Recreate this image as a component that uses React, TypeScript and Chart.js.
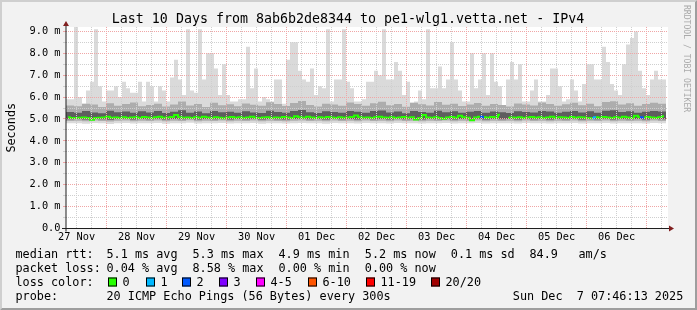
import React, { useEffect, useRef } from 'react';
import { Chart, registerables } from 'chart.js';

Chart.register(...registerables);

// ---------- text ----------
const TITLE = 'Last 10 Days from 8ab6b2de8344 to pe1-wlg1.vetta.net - IPv4';
const Y_TITLE = 'Seconds';
const WATERMARK = 'RRDTOOL / TOBI OETIKER';
const dayLabels = ['27 Nov', '28 Nov', '29 Nov', '30 Nov', '01 Dec', '02 Dec', '03 Dec', '04 Dec', '05 Dec', '06 Dec'];
const yMajorLabels = ['0.0', '1.0 m', '2.0 m', '3.0 m', '4.0 m', '5.0 m', '6.0 m', '7.0 m', '8.0 m', '9.0 m'];
const medianStats = ['5.1 ms avg', '5.3 ms max', '4.9 ms min', '5.2 ms now', '0.1 ms sd', '84.9', 'am/s'];
const lossStats = ['0.04 % avg', '8.58 % max', '0.00 % min', '0.00 % now'];
const lossLabels = ['0', '1', '2', '3', '4-5', '6-10', '11-19', '20/20'];
const lossColors = ['#26ff00', '#00b8ff', '#0059ff', '#7e00ff', '#ff00ff', '#ff5500', '#ff0000', '#a10000'];
const probeText = '20 ICMP Echo Pings (56 Bytes) every 300s';
const dateText = 'Sun Dec  7 07:46:13 2025';

// ---------- time axis (hours since 27 Nov 00:00) ----------
const START_HOUR = 7.77; // 27 Nov 07:46:13
const END_HOUR = 248.57;
const FINE_BIN = 1.6; // hours per fine bin (150 bins)
const CORE_BIN = 3.2; // hours per core bin (75 bins)

// ---------- data (ms) ----------
const maxRtt = [
  5.9, 5.9, 9.2, 6.0, 5.6, 6.3, 6.7, 9.1, 6.5, 5.8,
  6.3, 6.3, 6.5, 6.0, 6.7, 6.4, 6.2, 6.2, 6.7, 5.8,
  6.7, 6.5, 5.8, 6.5, 6.3, 5.8, 6.9, 7.7, 6.8, 6.1,
  9.1, 6.3, 6.2, 9.1, 6.8, 8.0, 8.0, 7.3, 6.1, 7.5,
  6.1, 5.8, 5.8, 5.9, 5.9, 8.3, 6.4, 7.3, 5.8, 6.0,
  5.9, 5.8, 6.8, 6.8, 5.7, 7.7, 8.5, 8.5, 7.2, 6.8,
  6.7, 7.3, 6.1, 6.5, 6.4, 9.1, 5.8, 6.8, 6.8, 9.1,
  6.7, 6.4, 5.8, 5.8, 5.9, 6.7, 6.7, 7.2, 7.0, 9.1,
  6.8, 6.8, 7.6, 7.2, 6.1, 6.7, 5.7, 5.8, 6.3, 5.9,
  9.1, 6.4, 6.4, 7.4, 6.4, 6.8, 8.5, 6.8, 6.3, 5.8,
  5.8, 8.0, 6.4, 6.8, 8.0, 6.1, 8.0, 6.7, 6.5, null,
  6.8, 7.6, 6.8, 7.5, 5.8, 5.8, 6.3, 6.8, 5.8, 5.8,
  6.1, 7.3, 7.3, 6.5, 5.8, 5.9, 6.8, 6.3, 5.8, 6.6,
  7.5, 7.5, 6.8, 6.8, 8.3, 7.6, 6.6, 6.3, 6.1, 7.5,
  8.4, 8.7, 9.0, 7.2, 6.4, 6.1, 6.8, 7.2, 6.8, 6.8,
];

const medianRtt = [
  5.08, 5.05, 5.04, 5.06, 5.07, 5.05, 4.97, 5.04, 5.06, 5.07,
  5.10, 5.06, 5.07, 5.05, 5.08, 5.04, 5.07, 5.08, 5.05, 5.09,
  5.07, 5.05, 5.08, 5.10, 5.06, 5.07, 5.09, 5.18, 5.08, 5.06,
  5.07, 5.05, 5.08, 5.06, 5.10, 5.07, 5.05, 5.08, 5.06, 5.03,
  5.07, 5.09, 5.06, 5.08, 5.05, 5.07, 5.10, 5.06, 5.04, 5.07,
  5.08, 5.05, 5.07, 5.06, 5.09, 5.07, 5.05, 5.12, 5.08, 5.06,
  5.10, 5.07, 5.05, 5.08, 5.06, 5.09, 5.07, 5.05, 5.08, 5.06,
  5.07, 5.09, 5.16, 5.08, 5.06, 5.07, 5.05, 5.08, 5.10, 5.07,
  5.06, 5.08, 5.05, 5.07, 5.09, 5.06, 5.08, 4.98, 5.05, 5.18,
  5.07, 5.06, 5.08, 5.05, 5.01, 5.07, 5.09, 5.06, 5.15, 5.08,
  5.06, 4.94, 5.07, 5.10, 5.08, 5.06, 5.09, 5.07, 5.19, null,
  5.05, 5.07, 5.06, 5.08, 5.05, 5.07, 5.09, 5.06, 5.08, 5.05,
  5.07, 5.10, 5.06, 5.08, 5.07, 5.05, 5.09, 5.06, 5.08, 5.07,
  5.05, 5.03, 5.08, 5.06, 5.09, 5.07, 5.05, 5.08, 5.06, 5.10,
  5.07, 5.05, 5.15, 5.08, 5.06, 5.09, 5.07, 5.05, 5.08, 5.12,
];

// packet-loss events on the median line (fine-bin index, pings lost)
const lossBins = [103, 131, 143];
const lossCounts = [2, 1, 2];

const p90Rtt = [
  5.62, 5.58, 5.70, 5.66, 5.55, 5.72, 5.60, 5.68, 5.75, 5.58,
  5.64, 5.70, 5.57, 5.66, 5.80, 5.62, 5.69, 5.55, 5.74, 5.63,
  5.67, 5.58, 5.71, 5.65, 5.60, 5.76, 5.68, 5.59, 5.73, 5.82,
  5.64, 5.57, 5.70, 5.66, 5.61, 5.75, 5.68, 5.60, 5.72, 5.79,
  5.63, 5.69, 5.56, 5.74, 5.67, 5.62, 5.78, 5.65, 5.70, 5.59,
  5.66, 5.73, 5.60, 5.68, 5.64, 5.57, 5.71, 5.66, 5.62, 5.75,
  5.69, 5.60, 5.67, 5.74, 5.63, 5.70, 5.58, 5.77, 5.81, 5.66,
  5.72, 5.60, 5.68, 5.74, 5.70,
];
const p75Rtt = [
  5.32, 5.28, 5.36, 5.30, 5.26, 5.38, 5.31, 5.34, 5.29, 5.35,
  5.30, 5.37, 5.27, 5.33, 5.40, 5.29, 5.34, 5.26, 5.36, 5.31,
  5.33, 5.28, 5.35, 5.30, 5.27, 5.38, 5.32, 5.29, 5.36, 5.41,
  5.31, 5.27, 5.35, 5.32, 5.28, 5.37, 5.33, 5.29, 5.36, 5.39,
  5.30, 5.34, 5.26, 5.37, 5.32, 5.29, 5.38, 5.31, 5.35, 5.28,
  5.33, 5.36, 5.29, 5.34, 5.31, 5.27, 5.35, 5.32, 5.30, 5.37,
  5.34, 5.29, 5.33, 5.36, 5.30, 5.35, 5.28, 5.38, 5.40, 5.32,
  5.35, 5.29, 5.33, 5.36, 5.34,
];
const p25Rtt = [
  4.99, 5.00, 4.98, 5.01, 4.99, 4.97, 5.00, 5.01, 4.98, 5.00,
  4.99, 5.01, 4.98, 5.00, 4.99, 5.02, 4.98, 5.00, 4.99, 5.01,
  4.98, 5.00, 4.99, 5.01, 4.98, 5.00, 4.99, 4.98, 5.00, 5.01,
  4.99, 5.00, 4.98, 5.01, 4.99, 5.00, 4.98, 5.01, 4.99, 5.00,
  4.98, 5.01, 4.99, 5.00, 4.98, 5.00, 4.99, 5.01, 4.98, 5.00,
  4.99, 5.01, 4.98, 5.00, 4.99, 5.00, 4.98, 5.01, 4.99, 5.00,
  4.98, 5.00, 4.99, 5.01, 4.98, 5.00, 4.99, 5.01, 4.98, 5.00,
  4.99, 5.00, 4.98, 5.01, 4.99,
];
const p10Rtt = [
  4.91, 4.92, 4.90, 4.93, 4.91, 4.89, 4.92, 4.93, 4.90, 4.92,
  4.91, 4.93, 4.90, 4.92, 4.91, 4.94, 4.90, 4.92, 4.91, 4.93,
  4.90, 4.92, 4.91, 4.93, 4.90, 4.92, 4.91, 4.90, 4.92, 4.93,
  4.91, 4.92, 4.90, 4.93, 4.91, 4.92, 4.90, 4.93, 4.91, 4.92,
  4.90, 4.93, 4.91, 4.92, 4.90, 4.92, 4.91, 4.93, 4.90, 4.92,
  4.91, 4.93, 4.90, 4.92, 4.91, 4.92, 4.90, 4.93, 4.91, 4.92,
  4.90, 4.92, 4.91, 4.93, 4.90, 4.92, 4.91, 4.93, 4.90, 4.92,
  4.91, 4.92, 4.90, 4.93, 4.91,
];
const minRtt = [
  4.80, 4.81, 4.78, 4.82, 4.80, 4.77, 4.81, 4.82, 4.79, 4.81,
  4.80, 4.82, 4.78, 4.81, 4.80, 4.83, 4.79, 4.81, 4.80, 4.82,
  4.79, 4.81, 4.80, 4.82, 4.78, 4.81, 4.80, 4.79, 4.81, 4.82,
  4.80, 4.81, 4.78, 4.82, 4.80, 4.81, 4.79, 4.82, 4.80, 4.81,
  4.79, 4.82, 4.80, 4.81, 4.79, 4.81, 4.80, 4.82, 4.79, 4.81,
  4.80, 4.82, 4.79, 4.81, 4.80, 4.81, 4.79, 4.82, 4.80, 4.81,
  4.79, 4.81, 4.80, 4.82, 4.79, 4.81, 4.80, 4.82, 4.79, 4.81,
  4.80, 4.81, 4.79, 4.82, 4.80,
];

// ---------- styling ----------
const MONO = "'DejaVu Sans Mono', monospace";
const MAJOR_GRID = '#f0a6a6';
const MINOR_GRID = '#cfcfcf';
const SMOKE_LIGHT = '#dadada';
const SMOKE_MID = '#adadad';
const SMOKE_DARK = '#5e5e5e';
const ARROW = '#801f1f';
const AXIS = '#1f1f1f';

const fineX = maxRtt.map((_, i) => START_HOUR + FINE_BIN * (i + 0.5));
const coreX = p25Rtt.map((_, j) => START_HOUR + CORE_BIN * (j + 0.5));

function lossColorIndex(count: number) {
  if (count <= 3) return count;
  if (count <= 5) return 4;
  if (count <= 10) return 5;
  if (count <= 19) return 6;
  return 7;
}
function lossColorAt(i: number) {
  const k = lossBins.indexOf(i);
  return k < 0 ? lossColors[0] : lossColors[lossColorIndex(lossCounts[k])];
}

const rrdPlugin = {
  id: 'rrdFrame',
  beforeDraw(chart: any) {
    const { ctx, width: W, height: H, chartArea: a } = chart;
    ctx.save();
    ctx.fillStyle = '#f2f2f2';
    ctx.fillRect(0, 0, W, H);
    ctx.fillStyle = '#cfcfcf';
    ctx.beginPath();
    ctx.moveTo(0, H); ctx.lineTo(2, H - 2); ctx.lineTo(2, 2); ctx.lineTo(W - 2, 2); ctx.lineTo(W, 0); ctx.lineTo(0, 0);
    ctx.closePath(); ctx.fill();
    ctx.fillStyle = '#9e9e9e';
    ctx.beginPath();
    ctx.moveTo(2, H - 2); ctx.lineTo(W - 2, H - 2); ctx.lineTo(W - 2, 2); ctx.lineTo(W, 0); ctx.lineTo(W, H); ctx.lineTo(0, H);
    ctx.closePath(); ctx.fill();
    ctx.fillStyle = '#ffffff';
    ctx.fillRect(a.left, a.top, a.right - a.left, a.bottom - a.top);
    ctx.restore();
  },
  afterDraw(chart: any) {
    const { ctx, chartArea: a } = chart;
    ctx.save();
    // axes
    ctx.strokeStyle = AXIS;
    ctx.lineWidth = 1;
    ctx.beginPath();
    ctx.moveTo(a.left - 4, a.bottom); ctx.lineTo(a.right + 1, a.bottom);
    ctx.stroke();
    ctx.beginPath();
    ctx.moveTo(a.left, a.bottom + 3); ctx.lineTo(a.left, a.top - 1);
    ctx.stroke();
    // arrows
    ctx.fillStyle = ARROW;
    ctx.beginPath();
    ctx.moveTo(a.right + 1, a.bottom - 3); ctx.lineTo(a.right + 6, a.bottom); ctx.lineTo(a.right + 1, a.bottom + 3);
    ctx.closePath(); ctx.fill();
    ctx.beginPath();
    ctx.moveTo(a.left - 3, a.top - 1); ctx.lineTo(a.left, a.top - 6); ctx.lineTo(a.left + 3, a.top - 1);
    ctx.closePath(); ctx.fill();

    ctx.fillStyle = '#000';
    ctx.textBaseline = 'alphabetic';
    // title
    ctx.font = `13.3px ${MONO}`;
    ctx.textAlign = 'center';
    ctx.fillText(TITLE, 348, 23);
    // y title
    ctx.font = `11.8px ${MONO}`;
    ctx.save();
    ctx.translate(14.5, (a.top + a.bottom) / 2);
    ctx.rotate(-Math.PI / 2);
    ctx.fillText(Y_TITLE, 0, 0);
    ctx.restore();
    // watermark
    ctx.save();
    ctx.fillStyle = '#aaaaaa';
    ctx.font = `8.1px ${MONO}`;
    ctx.textAlign = 'left';
    ctx.translate(683.5, 5);
    ctx.rotate(Math.PI / 2);
    ctx.fillText(WATERMARK, 0, 0);
    ctx.restore();

    // legend
    ctx.font = `11.8px ${MONO}`;
    ctx.textAlign = 'left';
    const rows = [258.3, 272.1, 286.2, 300.2];
    ctx.fillText('median rtt:', 15.5, rows[0]);
    const medX = [106.5, 192.5, 278.5, 364.8, 450.8, 529.5, 578.5];
    medianStats.forEach((s, i) => ctx.fillText(s, medX[i], rows[0]));
    ctx.fillText('packet loss:', 15.5, rows[1]);
    lossStats.forEach((s, i) => ctx.fillText(s, medX[i], rows[1]));
    ctx.fillText('loss color:', 15.5, rows[2]);
    const boxX = [108, 146, 182, 219, 256, 308, 366, 431];
    lossLabels.forEach((s, i) => {
      ctx.fillStyle = lossColors[i];
      ctx.fillRect(boxX[i], 277.5, 9, 9);
      ctx.strokeStyle = '#000';
      ctx.strokeRect(boxX[i] + 0.5, 278, 8, 8);
      ctx.fillStyle = '#000';
      ctx.fillText(s, boxX[i] + 14.5, rows[2]);
    });
    ctx.fillText('probe:', 15.5, rows[3]);
    ctx.fillText(probeText, 106.5, rows[3]);
    ctx.fillText(dateText, 512.8, rows[3]);
    ctx.restore();
  },
};

export default function App() {
  const ref = useRef<HTMLCanvasElement>(null);
  useEffect(() => {
    const canvas = ref.current;
    if (!canvas) return;
    Chart.defaults.font.family = MONO;
    const barCommon = { grouped: false, borderWidth: 0, inflateAmount: 0, borderSkipped: false };
    const chart = new Chart(canvas, {
      type: 'bar',
      data: {
        datasets: [
          {
            type: 'line',
            label: 'median rtt',
            data: medianRtt.map((v, i) => ({ x: fineX[i], y: v })),
            borderColor: lossColors[0],
            borderWidth: 2,
            pointRadius: 0,
            stepped: 'middle',
            spanGaps: false,
            order: 0,
            segment: { borderColor: (c: any) => lossColorAt(c.p0DataIndex) },
          } as any,
          {
            label: 'p25-p75',
            data: p25Rtt.map((v, j) => ({ x: coreX[j], y: [v, p75Rtt[j]] })),
            backgroundColor: SMOKE_DARK,
            barThickness: 8,
            order: 1,
            ...barCommon,
          },
          {
            label: 'p10-p90',
            data: p10Rtt.map((v, j) => ({ x: coreX[j], y: [v, p90Rtt[j]] })),
            backgroundColor: SMOKE_MID,
            barThickness: 8,
            order: 2,
            ...barCommon,
          },
          {
            label: 'min-p90',
            data: minRtt.map((v, j) => ({ x: coreX[j], y: [v, p90Rtt[j]] })),
            backgroundColor: SMOKE_LIGHT,
            barThickness: 8,
            order: 3,
            ...barCommon,
          },
          {
            label: 'median-max',
            data: maxRtt.map((v, i) => ({ x: fineX[i], y: v == null || medianRtt[i] == null ? null : [medianRtt[i], v] })),
            backgroundColor: SMOKE_LIGHT,
            barThickness: 4,
            order: 4,
            ...barCommon,
          },
        ] as any,
      },
      options: {
        animation: false,
        responsive: false,
        devicePixelRatio: 1,
        events: [],
        layout: { autoPadding: false, padding: { left: 0, right: 29, top: 27, bottom: 61.5 } } as any,
        plugins: { legend: { display: false }, tooltip: { enabled: false }, title: { display: false } },
        scales: {
          x: {
            type: 'linear',
            min: START_HOUR,
            max: END_HOUR,
            offset: false,
            afterFit: (s: any) => { s.height = 20; },
            afterBuildTicks: (s: any) => {
              const t = [];
              for (let h = 12; h <= 246; h += 6) t.push({ value: h });
              s.ticks = t;
            },
            grid: {
              offset: false,
              z: 1,
              drawTicks: false,
              lineWidth: 1,
              borderDash: [1, 1],
              color: (c: any) => (c.tick && c.tick.value % 24 === 0 ? MAJOR_GRID : MINOR_GRID),
            },
            border: { display: false, dash: [1, 1] },
            ticks: {
              autoSkip: false,
              maxRotation: 0,
              minRotation: 0,
              padding: 2.5,
              color: '#000',
              font: { family: MONO, size: 10.3 },
              callback: (v: any) => {
                const h = Number(v);
                return h % 24 === 12 ? dayLabels[Math.floor(h / 24)] : '';
              },
            },
          },
          y: {
            type: 'linear',
            min: 0,
            max: 9.2,
            afterFit: (s: any) => { s.width = 66; },
            afterBuildTicks: (s: any) => {
              const t = [];
              for (let k = 0; k <= 18; k++) t.push({ value: k / 2 });
              s.ticks = t;
            },
            grid: {
              z: 1,
              drawTicks: true,
              tickLength: 3,
              lineWidth: 1,
              borderDash: [1, 1],
              color: (c: any) => (c.tick && Number.isInteger(c.tick.value) ? MAJOR_GRID : MINOR_GRID),
              tickColor: (c: any) => (c.tick && Number.isInteger(c.tick.value) ? MAJOR_GRID : MINOR_GRID),
            },
            border: { display: false, dash: [1, 1] },
            ticks: {
              autoSkip: false,
              padding: 2.5,
              color: '#000',
              font: { family: MONO, size: 10.3 },
              callback: (v: any) => {
                const n = Number(v);
                return Number.isInteger(n) ? yMajorLabels[n] : '';
              },
            },
          },
        },
      } as any,
      plugins: [rrdPlugin],
    });
    return () => chart.destroy();
  }, []);
  return (
    <div style={{ position: 'fixed', left: 0, top: 0, width: 697, height: 310 }}>
      <canvas ref={ref} width={697} height={310} style={{ display: 'block', width: 697, height: 310 }} />
    </div>
  );
}
